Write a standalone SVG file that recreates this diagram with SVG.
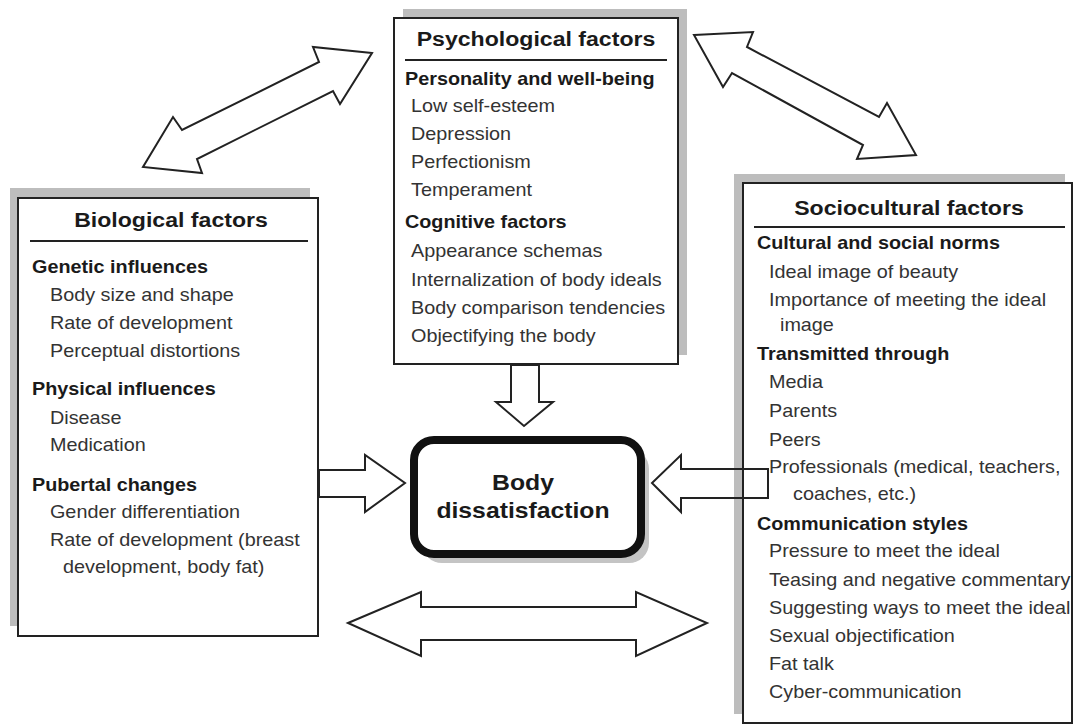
<svg xmlns="http://www.w3.org/2000/svg" width="1075" height="724" viewBox="0 0 1075 724">
<style>
  .shadow { fill: #bdbdbd; }
  .box { fill: #ffffff; stroke: #222222; stroke-width: 2; }
  .rule { stroke: #222222; stroke-width: 2; }
  .arrow { fill: #ffffff; stroke: #222222; stroke-width: 2; stroke-linejoin: miter; }
  text { font-family: "Liberation Sans", Arial, sans-serif; }
  .title { font-size: 21px; font-weight: bold; fill: #1a1a1a; text-anchor: middle; }
  .head { font-size: 18px; font-weight: bold; fill: #1a1a1a; }
  .item { font-size: 18px; fill: #333333; }
  .center { font-size: 22.5px; font-weight: bold; fill: #1a1a1a; text-anchor: middle; }
</style>
<rect width="1075" height="724" fill="#ffffff"/>

<g id="biological">
  <rect class="shadow" x="10" y="188" width="300" height="438"/>
  <rect class="box" x="18" y="198" width="300" height="438"/>
  <line class="rule" x1="30" y1="241" x2="308" y2="241"/>
  <g transform="scale(1.1,1)">
    <text class="title" x="155.45" y="227">Biological factors</text>
    <text class="head" x="29.09" y="273">Genetic influences</text>
    <text class="item" x="45.45" y="301">Body size and shape</text>
    <text class="item" x="45.45" y="329">Rate of development</text>
    <text class="item" x="45.45" y="357">Perceptual distortions</text>
    <text class="head" x="29.09" y="395">Physical influences</text>
    <text class="item" x="45.45" y="424">Disease</text>
    <text class="item" x="45.45" y="451">Medication</text>
    <text class="head" x="29.09" y="491">Pubertal changes</text>
    <text class="item" x="45.45" y="518">Gender differentiation</text>
    <text class="item" x="45.45" y="546">Rate of development (breast</text>
    <text class="item" x="57.27" y="573">development, body fat)</text>
  </g>
</g>

<g id="psychological">
  <rect class="shadow" x="403" y="9" width="284" height="346"/>
  <rect class="box" x="394" y="18" width="284" height="346"/>
  <line class="rule" x1="405" y1="60" x2="667" y2="60"/>
  <g transform="scale(1.1,1)">
    <text class="title" x="487.27" y="46">Psychological factors</text>
    <text class="head" x="368.18" y="85">Personality and well-being</text>
    <text class="item" x="373.64" y="112">Low self-esteem</text>
    <text class="item" x="373.64" y="140">Depression</text>
    <text class="item" x="373.64" y="168">Perfectionism</text>
    <text class="item" x="373.64" y="196">Temperament</text>
    <text class="head" x="368.18" y="228">Cognitive factors</text>
    <text class="item" x="373.64" y="257">Appearance schemas</text>
    <text class="item" x="373.64" y="286">Internalization of body ideals</text>
    <text class="item" x="373.64" y="314">Body comparison tendencies</text>
    <text class="item" x="373.64" y="342">Objectifying the body</text>
  </g>
</g>

<g id="sociocultural">
  <rect class="shadow" x="734" y="174" width="331" height="540"/>
  <rect class="box" x="743" y="183" width="329" height="540"/>
  <line class="rule" x1="754" y1="227" x2="1065" y2="227"/>
  <g transform="scale(1.1,1)">
    <text class="title" x="826.36" y="215">Sociocultural factors</text>
    <text class="head" x="688.18" y="249">Cultural and social norms</text>
    <text class="item" x="699.09" y="278">Ideal image of beauty</text>
    <text class="item" x="699.09" y="306">Importance of meeting the ideal</text>
    <text class="item" x="709.09" y="331">image</text>
    <text class="head" x="688.18" y="360">Transmitted through</text>
    <text class="item" x="699.09" y="388">Media</text>
    <text class="item" x="699.09" y="417">Parents</text>
    <text class="item" x="699.09" y="446">Peers</text>
    <text class="item" x="699.09" y="473">Professionals (medical, teachers,</text>
    <text class="item" x="720.91" y="500">coaches, etc.)</text>
    <text class="head" x="688.18" y="530">Communication styles</text>
    <text class="item" x="699.09" y="557">Pressure to meet the ideal</text>
    <text class="item" x="699.09" y="586">Teasing and negative commentary</text>
    <text class="item" x="699.09" y="614">Suggesting ways to meet the ideal</text>
    <text class="item" x="699.09" y="642">Sexual objectification</text>
    <text class="item" x="699.09" y="670">Fat talk</text>
    <text class="item" x="699.09" y="698">Cyber-communication</text>
  </g>
</g>

<g id="body-dissatisfaction">
  <rect x="422" y="449" width="227" height="114" rx="20" fill="#c4c4c4"/>
  <rect x="414" y="440" width="227" height="114" rx="20" fill="#ffffff" stroke="#111111" stroke-width="8"/>
  <g transform="scale(1.1,1)">
    <text class="center" x="475.45" y="490">Body</text>
    <text class="center" x="475.45" y="518">dissatisfaction</text>
  </g>
</g>

<g id="connectors">
  <polygon class="arrow" points="372,53 313,47 319,62 182,130 173,117 143,167 202,173 197,159 333,91 340,104"/>
  <polygon class="arrow" points="694,35 753,32 747,47 879,117 887,103 916,155 857,159 863,145 732,73 723,87"/>
  <polygon class="arrow" points="511,365 511,402 496,402 524,426 553,402 539,402 539,365"/>
  <polygon class="arrow" points="319,470 365,470 365,455 405,483 365,512 365,497 319,497"/>
  <polygon class="arrow" style="fill:none" points="768,469 681,469 681,455 652,483 681,512 681,498 768,498"/>
  <polygon class="arrow" points="348,623 421,592 421,607 636,607 636,592 707,623 636,656 636,640 421,640 421,656"/>
</g>
</svg>
